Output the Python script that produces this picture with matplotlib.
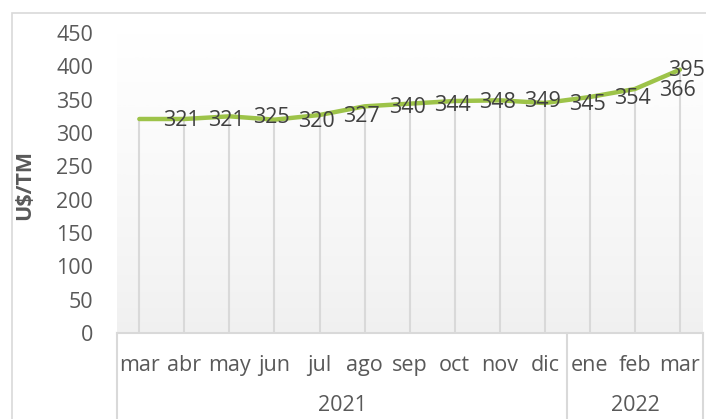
import numpy as np
import matplotlib
matplotlib.use("Agg")
import matplotlib.pyplot as plt
from matplotlib.patches import Rectangle
import matplotlib.transforms as mtransforms

plt.rcParams['font.family'] = ['Open Sans', 'DejaVu Sans']

# data
months = ['mar', 'abr', 'may', 'jun', 'jul', 'ago', 'sep', 'oct', 'nov', 'dic',
          'ene', 'feb', 'mar']
years = ['2021', '2022']
year_sizes = [10, 3]
prices = [321, 321, 325, 320, 327, 340, 344, 348, 349, 345, 354, 366, 395]
y_ticks = [0, 50, 100, 150, 200, 250, 300, 350, 400, 450]

line_col = '#9dc349'
grid_col = '#d9d9d9'
text_col = '#595959'
fs = 15.5

fig = plt.figure(figsize=(7.06, 4.19), dpi=100)
ax = fig.add_axes([116.8 / 706, 86 / 419, 585.7 / 706, 300 / 419])

x = np.arange(len(prices))
ax.set_xlim(-0.5, len(prices) - 0.5)
ax.set_ylim(0, 450)

# background gradient, white on top to light grey at the bottom
grad = np.linspace(1.0, 0.0, 256).reshape(-1, 1) ** 0.8
ax.imshow(grad, extent=(-0.5, len(prices) - 0.5, 0, 450), aspect='auto',
          cmap=matplotlib.colors.LinearSegmentedColormap.from_list('g', ['#f0f0f0', '#ffffff']),
          zorder=0)

# drop lines
ax.vlines(x, 0, prices, color=grid_col, lw=1.5, zorder=1)
ax.plot(x, prices, color=line_col, lw=3.2, solid_capstyle='round', zorder=3)

# data labels to the right of each point
for i, v in enumerate(prices):
    if i == len(prices) - 1:
        ax.annotate(str(v), (x[i], v), xytext=(25 * 0.72, -1 * 0.72),
                    textcoords='offset points', ha='right', va='center',
                    fontsize=fs, color='#404040', zorder=4, annotation_clip=False)
    else:
        ax.annotate(str(v), (x[i], v), xytext=(24 * 0.72, -1.5 * 0.72),
                    textcoords='offset points', ha='left', va='center',
                    fontsize=fs, color='#404040', zorder=4, annotation_clip=False)

for s in ax.spines.values():
    s.set_visible(False)

ax.set_yticks(y_ticks)
ax.set_xticks([])
ax.tick_params(axis='y', length=0, pad=17, labelsize=fs, labelcolor=text_col)
ax.set_ylabel('U$/TM', fontsize=fs, fontweight='bold', color=text_col)
ax.yaxis.set_label_coords((35 - 116.8) / 585.7, 0.495)

# two-level category axis box
tr = mtransforms.blended_transform_factory(ax.transData, ax.transAxes)
ax.plot([-0.5, len(prices) - 0.5], [0, 0], color=grid_col, lw=1.5,
        transform=tr, clip_on=False, zorder=2)
edges = [-0.5]
for n in year_sizes:
    edges.append(edges[-1] + n)
for e in edges:
    ax.plot([e, e], [0, -0.35], color=grid_col, lw=1.5, transform=tr,
            clip_on=False, zorder=2)

for i, m in enumerate(months):
    ax.text(x[i], -0.107, m, transform=tr, ha='center', va='center',
            fontsize=fs, color=text_col)
for k, yr in enumerate(years):
    ax.text((edges[k] + edges[k + 1]) / 2, -0.243, yr, transform=tr,
            ha='center', va='center', fontsize=fs, color=text_col)

# chart outer border
fig.patches.append(Rectangle((12 / 706, -0.1), 1.2, 1.1 - 13 / 419,
                             transform=fig.transFigure, fill=False,
                             edgecolor=grid_col, lw=1.2))

fig.savefig('out.png', dpi=100)
